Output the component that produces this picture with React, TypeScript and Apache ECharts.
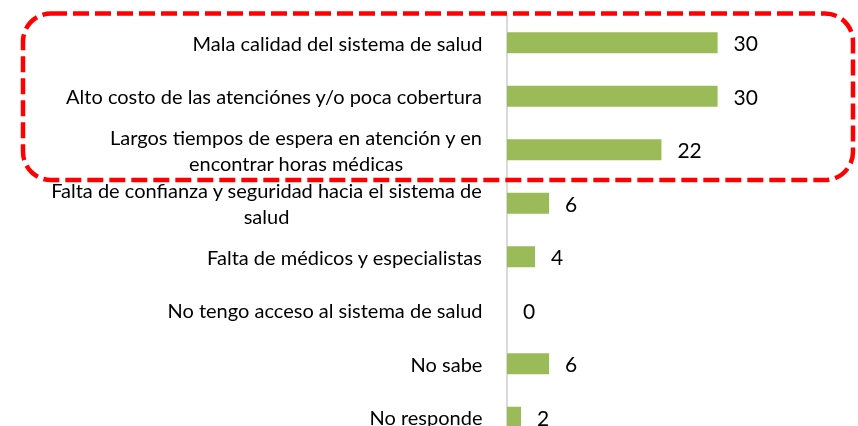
import React, { useEffect, useRef } from "react";
import * as echarts from "echarts";

const categories: string[] = [
  "Mala calidad del sistema de salud",
  "Alto costo de las atenciónes y/o poca cobertura",
  "Largos tiempos de espera en atención y en\nencontrar horas médicas",
  "Falta de confianza y seguridad hacia el sistema de\nsalud",
  "Falta de médicos y especialistas",
  "No tengo acceso al sistema de salud",
  "No sabe",
  "No responde",
];
const values: number[] = [30, 30, 22, 6, 4, 0, 6, 2];

const FONT = "Lato";
const CAT_SIZE = 20;
const VAL_SIZE = 21;

function measure(text: string): number {
  const c = document.createElement("canvas").getContext("2d");
  if (!c) return text.length * 9;
  c.font = `${CAT_SIZE}px ${FONT}`;
  return c.measureText(text).width;
}

export default function App() {
  const ref = useRef<HTMLDivElement>(null);
  useEffect(() => {
    if (!ref.current) return;
    const chart = echarts.init(ref.current, null, { renderer: "svg" });
    const rich: Record<string, any> = {};
    categories.forEach((c, i) => {
      const w = Math.max(...c.split("\n").map(measure));
      rich["c" + i] = {
        width: Math.ceil(w) + 1,
        align: "center",
        fontFamily: FONT,
        fontSize: CAT_SIZE,
        lineHeight: 26,
        color: "#000",
      };
    });
    chart.setOption({
      animation: false,
      grid: {
        left: 507,
        right: 0,
        top: 16,
        height: 428,
        containLabel: false,
        outerBoundsMode: "none",
      },
      xAxis: {
        type: "value",
        min: 0,
        max: 50,
        show: false,
      },
      yAxis: {
        type: "category",
        inverse: true,
        data: categories,
        axisLine: { show: true, lineStyle: { color: "#d9d9d9", width: 2 } },
        axisTick: { show: false },
        splitLine: { show: false },
        axisLabel: {
          margin: 24,
          align: "right",
          formatter: (v: string, i: number) =>
            v
              .split("\n")
              .map((l) => `{c${i}|${l}}`)
              .join("\n"),
          rich,
        },
      },
      series: [
        {
          type: "bar",
          data: values,
          barWidth: 21,
          itemStyle: { color: "#9BBB59" },
          label: {
            show: true,
            position: "right",
            distance: 16,
            fontFamily: FONT,
            fontSize: VAL_SIZE,
            color: "#000",
          },
        },
      ],
      graphic: [
        {
          type: "rect",
          shape: { x: 23, y: 13.5, width: 830, height: 166.5, r: 28 },
          style: {
            fill: "none",
            stroke: "#FF0000",
            lineWidth: 4.5,
            lineDash: [16, 6],
          },
          z: 100,
        },
      ],
    });
    return () => chart.dispose();
  }, []);
  return (
    <div
      ref={ref}
      style={{ position: "fixed", left: 0, top: 0, width: 858, height: 426 }}
    />
  );
}
